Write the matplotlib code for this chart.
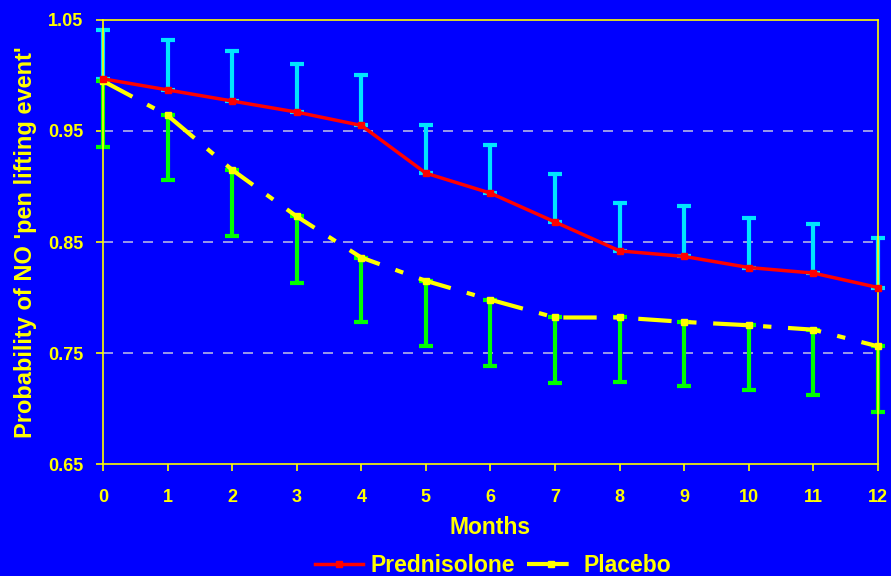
import numpy as np
import matplotlib.pyplot as plt

months = np.arange(0, 13)

pred = [0.997, 0.987, 0.977, 0.967, 0.955, 0.912, 0.894, 0.868, 0.842, 0.837, 0.827, 0.822, 0.809]
pred_upper = [1.041, 1.032, 1.022, 1.010, 1.000, 0.955, 0.937, 0.911, 0.885, 0.882, 0.872, 0.866, 0.854]

plac = [0.995, 0.964, 0.915, 0.873, 0.836, 0.815, 0.798, 0.782, 0.782, 0.778, 0.775, 0.771, 0.756]
plac_lower = [0.936, 0.906, 0.855, 0.813, 0.778, 0.756, 0.738, 0.723, 0.724, 0.720, 0.717, 0.712, 0.697]

bg = '#0000ff'
fg = '#ffff00'

plt.rcParams['font.family'] = ['Liberation Sans', 'DejaVu Sans']
plt.rcParams['font.weight'] = 'bold'

fig = plt.figure(figsize=(8.91, 5.76), dpi=100, facecolor=bg)
ax = fig.add_axes([0.1156, 0.1944, 0.8698, 0.7709], facecolor=bg)

pred = np.array(pred)
plac = np.array(plac)
up_err = np.array(pred_upper) - pred
lo_err = plac - np.array(plac_lower)

# error bars: only the upper half for prednisolone, lower half for placebo
for eb in (
    ax.errorbar(months, pred, yerr=[np.zeros_like(up_err), up_err], fmt='none',
                ecolor='#00e5ff', elinewidth=3, capsize=5, capthick=3, zorder=2),
    ax.errorbar(months, plac, yerr=[lo_err, np.zeros_like(lo_err)], fmt='none',
                ecolor='#00ff00', elinewidth=3, capsize=5, capthick=3, zorder=2),
):
    for art in eb.lines[1] + eb.lines[2]:
        art.set_clip_on(False)

ax.plot(months, pred, color='#ff0000', lw=2.5, marker='s', ms=5,
        label='Prednisolone', zorder=4, clip_on=False)
ax.plot(months, plac, color=fg, lw=3, marker='s', ms=5,
        dashes=(8, 4, 2, 4), label='Placebo', zorder=3, clip_on=False)

ax.set_xlim(0, 12)
ax.set_ylim(0.65, 1.05)
ax.set_xticks(months)
ax.set_yticks([0.65, 0.75, 0.85, 0.95, 1.05])
ax.set_yticklabels(['0.65', '0.75', '0.85', '0.95', '1.05'])

for y in [0.75, 0.85, 0.95]:
    ax.axhline(y, color='#b4b4e6', lw=1.2, dashes=(6, 6), zorder=1)

for s in ax.spines.values():
    s.set_color(fg)
    s.set_linewidth(1.2)

ax.tick_params(axis='both', colors=fg, labelcolor=fg, length=5, width=1.2,
               labelsize=13)
ax.tick_params(axis='x', pad=13)
ax.tick_params(axis='y', pad=9)

ax.set_xlabel('Months', color=fg, fontsize=16.5, fontweight='bold', labelpad=7)
ax.set_ylabel("Probability of NO 'pen lifting event'", color=fg, fontsize=17,
              fontweight='bold', labelpad=8)

leg = fig.legend(loc='lower center', bbox_to_anchor=(0.553, -0.038), ncol=2,
                 frameon=False, fontsize=16.5, handlelength=2.1,
                 columnspacing=0.5, handletextpad=0.35)
for t in leg.get_texts():
    t.set_color(fg)
# legend sample for placebo: long dash, gap, short dash
leg.get_lines()[1].set_dashes((10, 3, 2.3, 10))

fig.savefig('out.png', dpi=100, facecolor=bg)
